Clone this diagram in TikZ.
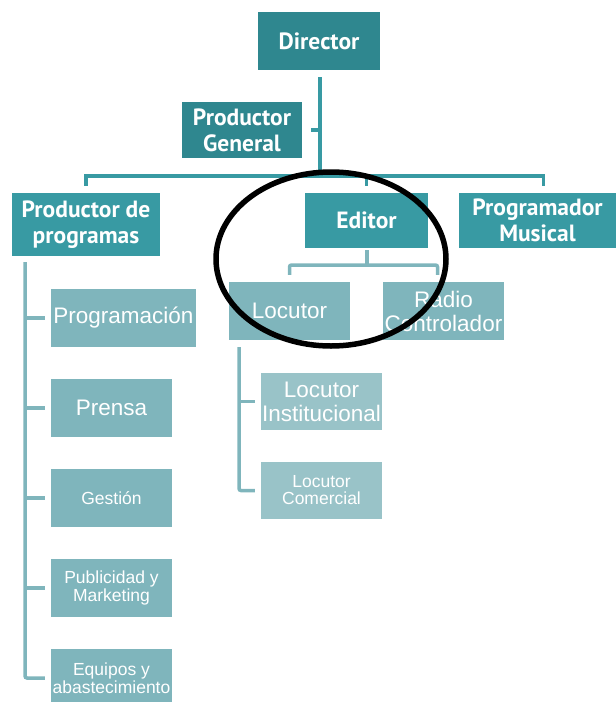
\documentclass[tikz,border=0pt]{standalone}
\usepackage{fontspec}
\usetikzlibrary{shapes.geometric}
\newfontfamily\headfont{PT Sans}
\newfontfamily\bodyfont{Liberation Sans}
\definecolor{tealdark}{HTML}{2F878F}
\definecolor{tealmid}{HTML}{389AA3}
\definecolor{teallight}{HTML}{7FB5BC}
\definecolor{tealpale}{HTML}{99C3C8}
\tikzset{
  box/.style={rectangle, inner sep=0pt, text=white, align=center},
  toptier/.style={box, fill=tealdark, font=\headfont\bfseries\fontsize{23.5}{26}\selectfont},
  midtier/.style={box, fill=tealmid, font=\headfont\bfseries\fontsize{23.5}{26}\selectfont},
  unitbig/.style={box, fill=teallight, font=\bodyfont\fontsize{22.5}{24}\selectfont},
  unitsmall/.style={box, fill=teallight, font=\bodyfont\fontsize{17.5}{18.5}\selectfont},
  subbig/.style={box, fill=tealpale, font=\bodyfont\fontsize{22.5}{24}\selectfont},
  subsmall/.style={box, fill=tealpale, font=\bodyfont\fontsize{17.5}{17}\selectfont},
  topline/.style={draw=tealmid, line width=3.5pt},
  lowline/.style={draw=teallight, line width=3.5pt, rounded corners=2pt},
  ring/.style={draw=black, line width=5.5pt, ellipse, inner sep=0pt},
}
\begin{document}
\begin{tikzpicture}[x=1pt,y=-1pt]
\useasboundingbox (0,0) rectangle (616,702);

% upper tiers
\node[toptier, minimum width=122, minimum height=58] (dir) at (319,41) {Director};
\node[toptier, minimum width=120, minimum height=56] (pg) at (242,130) {Productor\\General};
\node[midtier, minimum width=148, minimum height=63] (pdp) at (86,224.5) {Productor de\\programas};
\node[midtier, minimum width=123, minimum height=55] (ed) at (366.5,220.5) {Editor};
\node[midtier, minimum width=157, minimum height=55] (pm) at (537.5,220.5) {Programador\\Musical};

% units under the programme producer
\node[unitbig, minimum width=145, minimum height=58] (prog) at (123.5,318) {Programación};
\node[unitbig, minimum width=121, minimum height=58] (prensa) at (111.5,408) {Prensa};
\node[unitsmall, minimum width=121, minimum height=58] (gestion) at (111.5,498) {Gestión};
\node[unitsmall, minimum width=121, minimum height=58] (publi) at (111.5,588) {Publicidad y\\Marketing};
\node[unitsmall, minimum width=121, minimum height=58] (equip) at (111.5,678) {Equipos y\\abastecimiento};

% units under the editor
\node[unitbig, minimum width=121, minimum height=58] (loc) at (289.5,311) {Locutor};
\node[unitbig, minimum width=121, minimum height=58] (radio) at (443.5,311) {Radio\\Controlador};
\node[subbig, minimum width=121, minimum height=57] (loci) at (321.5,401.5) {Locutor\\Institucional};
\node[subsmall, minimum width=121, minimum height=57] (locc) at (321.5,490.5) {Locutor\\Comercial};

% junction points
\coordinate (hub) at (320,176);
\coordinate (edhub) at (367,265);
\coordinate (pdpspine) at (25,262);
\coordinate (locspine) at (239,347);

% top connectors
\draw[topline] ([yshift=-7pt]dir.south -| hub) -- (hub);
\draw[topline] ([xshift=9pt]pg.east) -- (pg.east -| hub);
\draw[topline] ([yshift=7pt]pdp.north) -- (pdp.north |- hub) -- ([xshift=6pt]pm.north |- hub) -- ([xshift=6pt,yshift=7pt]pm.north);
\draw[topline] ([yshift=7pt]ed.north) -- (ed.north |- hub);

% editor branch
\draw[lowline] ([yshift=-2pt]ed.south -| edhub) -- (edhub);
\draw[lowline] ([yshift=7pt]loc.north) -- (loc.north |- edhub) -- ([xshift=-6pt]radio.north |- edhub) -- ([xshift=-6pt,yshift=7pt]radio.north);

% programme producer spine
\draw[lowline] (pdpspine) |- ([xshift=-6pt]equip.west);
\foreach \n in {prog,prensa,gestion,publi}
  \draw[lowline] (pdpspine |- \n.west) -- ([xshift=-6pt]\n.west);

% announcer spine
\draw[lowline] (locspine) |- ([xshift=-6pt]locc.west);
\draw[lowline] (locspine |- loci.west) -- ([xshift=-6pt]loci.west);

% highlight ring
\node[ring, minimum width=230, minimum height=174] (mark) at (331,259) {};
\end{tikzpicture}
\end{document}
